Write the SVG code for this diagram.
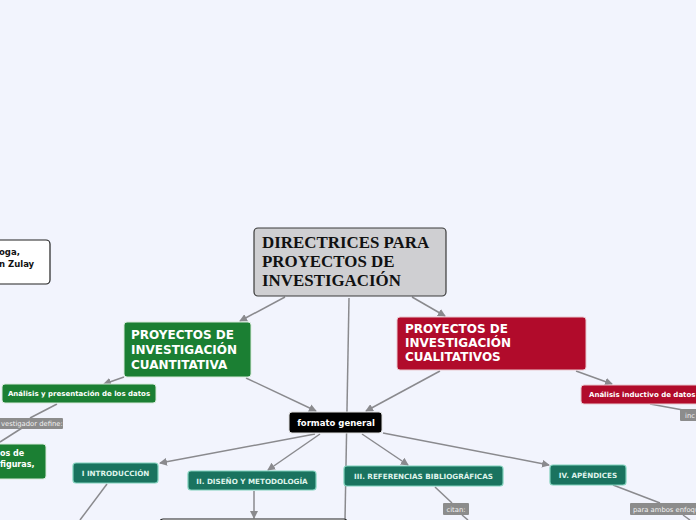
<svg xmlns="http://www.w3.org/2000/svg" width="696" height="520" viewBox="0 0 696 520">
<defs>
<marker id="ah" markerWidth="8" markerHeight="8" refX="7" refY="4" orient="auto" markerUnits="userSpaceOnUse">
<path d="M0,0 L8,4 L0,8 Z" fill="#8a8a8e"/>
</marker>
<style>
.c{stroke:#8a8a8e;stroke-width:1.5;fill:none}
.ca{stroke:#8a8a8e;stroke-width:1.5;fill:none;marker-end:url(#ah)}
.t{font-family:"DejaVu Sans",Verdana,sans-serif;font-weight:bold}
.w{fill:#ffffff}
.green{fill:#1b7f33;stroke:#d8eadb;stroke-width:1}
.red{fill:#b10b2b;stroke:#e8c8cf;stroke-width:1}
.teal{fill:#1a735f;stroke:#7fd0bb;stroke-width:1.2}
.tl{fill:#dff3ec}
.lab{fill:#8c8c8c}
.lt{font-family:"DejaVu Sans",Verdana,sans-serif;font-size:6.8px;fill:#f2f2f2}
</style>
</defs>
<rect width="696" height="520" fill="#f2f4fd"/>
<g id="connectors">
<line class="ca" x1="285" y1="297" x2="240" y2="321"/>
<line class="ca" x1="412" y1="297" x2="445" y2="316"/>
<line class="c" x1="349" y1="298" x2="345" y2="520"/>
<line class="ca" x1="246" y1="378" x2="316" y2="411"/>
<line class="ca" x1="440" y1="371" x2="366" y2="411"/>
<line class="ca" x1="124" y1="377" x2="104" y2="384"/>
<line class="ca" x1="576" y1="371" x2="612" y2="384"/>
<line class="c" x1="57" y1="404" x2="30" y2="418"/>
<line class="c" x1="22" y1="428" x2="0" y2="442"/>
<line class="c" x1="650" y1="404" x2="683" y2="410"/>
<line class="ca" x1="315" y1="434" x2="160" y2="463"/>
<line class="ca" x1="320" y1="434" x2="268" y2="470"/>
<line class="ca" x1="362" y1="434" x2="408" y2="465"/>
<line class="ca" x1="383" y1="433" x2="549" y2="465"/>
<line class="c" x1="107" y1="484" x2="80" y2="520"/>
<line class="ca" x1="254" y1="491" x2="254" y2="518"/>
<line class="c" x1="435" y1="487" x2="452" y2="503"/>
<line class="c" x1="462" y1="515" x2="468" y2="520"/>
<line class="c" x1="613" y1="485" x2="660" y2="503"/>
<line class="c" x1="683" y1="515" x2="690" y2="520"/>
</g>
<g id="n-left-author">
<rect x="-10" y="240" width="60" height="44" rx="4" fill="#ffffff" stroke="#222" stroke-width="1.2"/>
<text class="t" font-size="8.5" fill="#111"><tspan x="-1" y="255">oga,</tspan><tspan x="-1" y="267">n Zulay</tspan></text>
</g>
<g id="n-title">
<rect x="254" y="228" width="192" height="68" rx="4" fill="#cfcfd2" stroke="#3a3a3a" stroke-width="1.2"/>
<text font-family="'Liberation Serif','Times New Roman',serif" font-weight="bold" font-size="16.9" fill="#111"><tspan x="262" y="248">DIRECTRICES PARA</tspan><tspan x="262" y="267">PROYECTOS DE</tspan><tspan x="262" y="286">INVESTIGACIÓN</tspan></text>
</g>
<g id="n-cuanti">
<rect class="green" x="124" y="322" width="127" height="55" rx="3"/>
<text class="t w" font-size="12"><tspan x="131" y="339">PROYECTOS DE</tspan><tspan x="131" y="354">INVESTIGACIÓN</tspan><tspan x="131" y="369">CUANTITATIVA</tspan></text>
</g>
<g id="n-cuali">
<rect class="red" x="397" y="317" width="189" height="53" rx="3"/>
<text class="t w" font-size="12"><tspan x="405" y="333">PROYECTOS DE</tspan><tspan x="405" y="347">INVESTIGACIÓN</tspan><tspan x="405" y="361">CUALITATIVOS</tspan></text>
</g>
<g id="n-analisis-pres">
<rect class="green" x="2" y="384" width="154" height="19" rx="3"/>
<text class="t w" font-size="7" x="79" y="396" text-anchor="middle">Análisis y presentación de los datos</text>
</g>
<g id="n-lab-define">
<rect class="lab" x="-4" y="418" width="67" height="11" rx="1"/>
<text class="lt" x="1" y="426">vestigador define:</text>
</g>
<g id="n-tablas">
<rect class="green" x="-10" y="444" width="56" height="35" rx="3"/>
<text class="t w" font-size="8"><tspan x="0" y="456">os de</tspan><tspan x="0" y="467">figuras,</tspan></text>
</g>
<g id="n-analisis-ind">
<rect class="red" x="581" y="385" width="125" height="19" rx="3"/>
<text class="t w" font-size="7" x="589" y="397">Análisis inductivo de datos</text>
</g>
<g id="n-lab-inc">
<rect class="lab" x="680" y="409" width="20" height="12" rx="1"/>
<text class="lt" x="685" y="418">inc</text>
</g>
<g id="n-formato">
<rect x="289" y="412" width="93" height="21" rx="3" fill="#000" stroke="#ddd" stroke-width="1"/>
<text class="t w" font-size="8.5" x="336" y="426" text-anchor="middle">formato general</text>
</g>
<g id="n-intro">
<rect class="teal" x="73" y="463" width="85" height="20" rx="3"/>
<text class="t tl" font-size="7.2" x="115.5" y="476" text-anchor="middle">I INTRODUCCIÓN</text>
</g>
<g id="n-diseno">
<rect class="teal" x="188" y="471" width="128" height="19" rx="3"/>
<text class="t tl" font-size="7.2" x="252" y="483.5" text-anchor="middle">II. DISEÑO Y METODOLOGÍA</text>
</g>
<g id="n-ref">
<rect class="teal" x="344" y="466" width="159" height="20" rx="3"/>
<text class="t tl" font-size="7.2" x="423.5" y="479" text-anchor="middle">III. REFERENCIAS BIBLIOGRÁFICAS</text>
</g>
<g id="n-apend">
<rect class="teal" x="550" y="465" width="76" height="20" rx="3"/>
<text class="t tl" font-size="7.2" x="588" y="478" text-anchor="middle">IV. APÉNDICES</text>
</g>
<g id="n-lab-citan">
<rect class="lab" x="443" y="503" width="26" height="12" rx="1"/>
<text class="lt" x="456" y="512" text-anchor="middle">citan:</text>
</g>
<g id="n-lab-ambos">
<rect class="lab" x="630" y="503" width="70" height="12" rx="1"/>
<text class="lt" x="633" y="512" font-size="6.3">para ambos enfoqu</text>
</g>
<g id="n-bottom">
<rect x="160" y="519" width="187" height="20" rx="3" fill="#ffffff" stroke="#222" stroke-width="1.2"/>
</g>
</svg>
